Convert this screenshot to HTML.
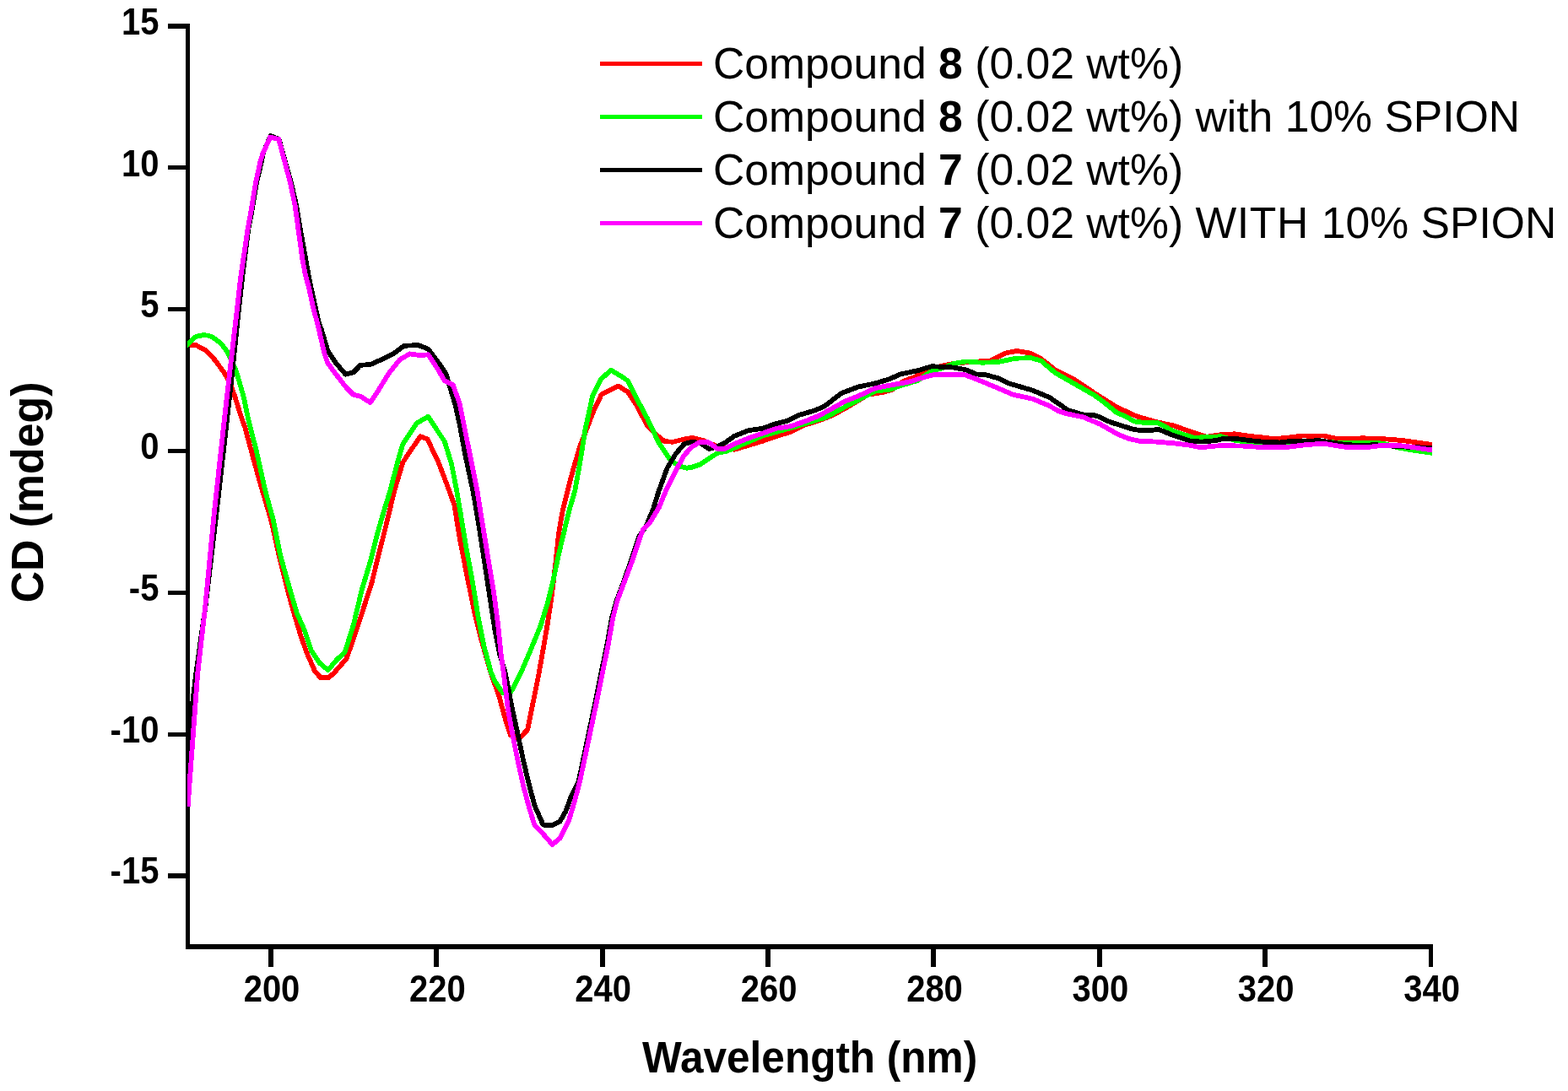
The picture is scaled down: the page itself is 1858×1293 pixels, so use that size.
<!DOCTYPE html>
<html lang="en">
<head>
<meta charset="utf-8">
<title>CD spectra</title>
<style>
html,body{margin:0;padding:0;background:#fff;}
body{width:1858px;height:1293px;overflow:hidden;position:relative;font-family:"Liberation Sans",sans-serif;}
svg{position:absolute;left:0;top:0;display:block;}
text{font-family:"Liberation Sans",sans-serif;fill:#000;}
.ax{fill:#000;shape-rendering:crispEdges;}
.tk{font-weight:bold;font-size:44px;}
.al{font-weight:bold;font-size:52px;}
.lg{font-size:52.2px;}
.lg .b{font-weight:bold;}
.cv{fill:none;shape-rendering:crispEdges;stroke-width:5.8;stroke-linejoin:round;stroke-linecap:butt;}
</style>
</head>
<body>
<svg width="1858" height="1293" viewBox="0 0 1858 1293">
<rect width="1858" height="1293" fill="#fff"/>
<defs><clipPath id="plot"><rect x="222" y="20" width="1475" height="1105"/></clipPath></defs>

<g class="axes">
<rect class="ax" x="220" y="28" width="5" height="1097"/>
<rect class="ax" x="220" y="1119" width="1478" height="6"/>
<rect class="ax" x="199" y="28" width="22" height="6"/>
<rect class="ax" x="199" y="196" width="22" height="5"/>
<rect class="ax" x="199" y="364" width="22" height="5"/>
<rect class="ax" x="199" y="532" width="22" height="5"/>
<rect class="ax" x="199" y="700" width="22" height="5"/>
<rect class="ax" x="199" y="868" width="22" height="5"/>
<rect class="ax" x="199" y="1035" width="22" height="6"/>
<rect class="ax" x="318" y="1124" width="6" height="22"/>
<rect class="ax" x="514" y="1124" width="6" height="22"/>
<rect class="ax" x="711" y="1124" width="6" height="22"/>
<rect class="ax" x="907" y="1124" width="6" height="22"/>
<rect class="ax" x="1103" y="1124" width="6" height="22"/>
<rect class="ax" x="1300" y="1124" width="6" height="22"/>
<rect class="ax" x="1496" y="1124" width="6" height="22"/>
<rect class="ax" x="1693" y="1124" width="5" height="22"/>
</g>
<g class="curves" clip-path="url(#plot)">
<path class="cv" stroke="#ff0000" d="M212.0,407.8 L222.1,408.4 L232.1,409.0 L237.3,411.7 L242.5,414.3 L248.5,420.4 L253.7,425.6 L258.9,432.5 L264.1,439.5 L268.5,446.4 L273.5,456.5 L278.6,470.7 L286.4,496.0 L290.2,506.3 L295.2,524.7 L301.9,549.7 L311.0,582.0 L321.0,615.4 L330.4,657.2 L340.6,698.9 L348.5,727.3 L356.0,752.4 L363.7,774.1 L372.9,795.0 L379.7,803.0 L389.5,803.0 L395.4,798.0 L410.4,780.8 L418.8,757.4 L427.1,732.3 L440.5,690.6 L448.8,657.2 L457.2,623.8 L467.2,582.0 L477.3,548.1 L487.3,533.0 L498.1,517.2 L506.5,520.5 L520.0,549.0 L532.5,582.0 L538.4,598.7 L545.1,640.5 L553.4,682.2 L561.8,724.0 L570.1,757.4 L581.8,798.0 L591.8,826.4 L598.5,851.4 L605.2,871.5 L615.3,875.0 L625.2,864.8 L630.2,839.8 L635.3,814.7 L638.6,798.0 L642.8,774.1 L648.6,740.7 L653.6,707.3 L658.6,665.5 L662.0,632.1 L667.0,603.7 L672.4,582.0 L678.7,558.1 L687.0,529.7 L703.7,486.3 L712.9,467.1 L733.0,457.5 L743.8,464.5 L753.8,479.6 L767.2,504.6 L777.2,514.7 L787.2,523.0 L797.3,523.8 L810.6,520.5 L820.6,518.8 L833.4,522.0 L850.0,529.0 L870.1,532.8 L886.8,527.8 L903.5,522.8 L920.2,516.9 L936.9,511.9 L953.6,503.6 L970.3,498.5 L987.0,491.9 L1003.7,482.7 L1028.8,467.6 L1045.5,465.1 L1057.2,461.8 L1070.5,451.8 L1083.9,446.8 L1095.6,440.0 L1110.0,435.0 L1130.0,430.9 L1146.7,429.2 L1173.4,427.6 L1191.8,418.4 L1205.2,415.9 L1220.2,418.4 L1233.6,425.1 L1250.3,438.4 L1273.6,450.1 L1297.0,466.0 L1323.7,482.7 L1347.1,493.5 L1370.5,500.2 L1390.6,504.4 L1413.9,512.7 L1430.0,517.7 L1446.7,515.2 L1463.4,514.3 L1480.1,516.8 L1496.8,518.5 L1510.2,520.2 L1526.9,518.5 L1543.6,516.5 L1556.9,516.8 L1568.6,516.5 L1580.3,519.3 L1597.0,520.2 L1613.7,519.3 L1630.4,519.7 L1647.1,520.7 L1663.8,522.3 L1680.5,524.7 L1697.0,526.9 L1707.0,528.2"/>
<path class="cv" stroke="#00ff00" d="M212.0,418.2 L222.1,408.3 L231.2,399.4 L236.4,397.9 L241.6,397.1 L246.8,397.7 L252.0,399.6 L258.9,404.8 L264.1,410.0 L269.3,416.9 L271.9,422.1 L278.4,436.0 L281.3,444.7 L288.8,470.7 L294.0,496.0 L296.9,508.0 L303.5,533.0 L310.2,563.1 L314.4,582.0 L323.6,615.4 L331.9,657.2 L343.6,698.9 L352.0,727.3 L360.3,745.7 L368.7,770.7 L378.7,785.8 L388.7,794.1 L398.7,782.4 L408.8,772.4 L418.8,740.7 L428.8,698.9 L438.8,665.5 L447.2,632.1 L455.5,603.7 L462.2,582.0 L470.6,549.7 L477.3,526.3 L494.0,501.3 L507.3,493.8 L520.0,513.0 L526.7,523.0 L535.0,549.7 L541.3,582.0 L545.5,607.1 L552.4,648.8 L560.1,690.6 L566.8,732.3 L573.4,765.7 L582.2,798.0 L586.8,808.0 L595.7,821.0 L605.5,820.0 L613.5,804.7 L616.9,798.0 L628.6,770.7 L640.3,742.3 L648.6,715.6 L655.3,688.9 L662.0,657.2 L668.7,628.8 L675.3,602.0 L681.2,582.0 L687.0,549.7 L693.7,508.0 L702.1,469.6 L712.1,449.5 L723.8,438.7 L733.8,444.5 L743.8,451.2 L753.8,471.2 L767.2,496.3 L780.6,524.7 L793.9,544.7 L804.0,552.2 L814.0,554.7 L820.0,553.7 L830.0,550.3 L840.0,543.6 L850.1,537.0 L861.8,534.5 L878.5,527.2 L903.5,516.6 L940.0,506.3 L978.7,494.6 L1003.7,481.0 L1037.1,463.5 L1053.8,461.8 L1070.5,456.0 L1087.2,451.0 L1103.9,440.0 L1117.3,436.0 L1130.0,430.9 L1145.0,428.4 L1163.4,429.7 L1181.8,429.2 L1203.5,424.7 L1221.9,424.2 L1233.6,427.6 L1250.3,441.8 L1273.6,455.1 L1297.0,468.5 L1310.4,478.5 L1323.7,489.4 L1333.8,493.5 L1343.8,499.4 L1357.1,501.1 L1372.2,501.1 L1390.6,511.1 L1413.9,518.6 L1430.0,518.2 L1446.7,517.2 L1463.4,521.8 L1480.1,524.3 L1500.1,526.5 L1520.2,526.5 L1538.6,524.3 L1560.0,523.0 L1590.0,525.0 L1613.7,525.3 L1630.4,524.8 L1640.5,526.0 L1655.5,530.2 L1672.2,533.3 L1697.0,536.8 L1707.0,538.2"/>
<path class="cv" stroke="#000000" d="M222.6,880.0 L232.3,798.0 L243.3,720.0 L256.5,608.0 L269.2,496.0 L275.8,436.0 L281.1,384.0 L287.2,328.3 L294.2,272.0 L298.4,250.2 L304.0,216.8 L309.8,191.8 L312.0,181.0 L320.5,161.0 L330.6,165.0 L337.5,190.0 L345.0,216.8 L351.2,243.5 L356.8,277.0 L362.2,306.7 L365.5,325.7 L368.7,341.3 L373.5,363.0 L378.2,384.0 L381.0,391.0 L388.5,416.1 L398.7,431.1 L409.6,443.7 L418.8,441.2 L427.1,432.8 L438.8,432.0 L452.2,426.1 L467.2,418.6 L478.9,409.8 L495.6,409.1 L507.3,413.6 L520.0,430.3 L528.4,442.8 L533.4,459.5 L539.4,479.6 L544.7,503.0 L551.4,539.7 L560.5,582.0 L567.6,623.8 L574.0,665.5 L580.4,707.3 L586.8,749.0 L591.8,774.1 L598.9,798.0 L606.9,839.8 L613.5,869.8 L620.2,901.6 L626.9,930.0 L633.6,955.0 L643.6,977.6 L653.6,978.4 L663.6,973.4 L670.3,961.7 L677.0,943.3 L685.5,926.6 L692.2,894.9 L698.9,863.1 L705.6,831.4 L712.3,798.0 L719.0,765.7 L725.0,732.3 L730.5,712.3 L738.0,692.2 L747.5,665.5 L757.5,635.4 L765.5,623.8 L773.9,603.7 L780.6,582.0 L790.6,554.7 L800.6,538.0 L810.6,526.3 L820.0,523.6 L830.0,525.3 L840.0,532.0 L850.1,529.4 L858.4,525.3 L870.1,516.9 L886.8,510.2 L903.5,507.7 L920.2,501.9 L933.6,498.5 L946.9,491.9 L967.0,486.0 L978.7,480.2 L997.0,466.0 L1017.1,458.5 L1037.1,454.3 L1053.8,449.3 L1067.2,443.4 L1087.2,439.3 L1103.9,434.2 L1130.0,435.5 L1145.0,438.4 L1156.7,443.4 L1168.4,444.3 L1183.4,448.4 L1195.1,454.3 L1223.5,462.6 L1243.6,471.0 L1265.3,486.0 L1283.7,491.5 L1295.4,491.9 L1303.7,494.4 L1315.4,500.2 L1342.1,508.6 L1352.1,510.2 L1363.8,510.2 L1372.2,508.6 L1390.6,516.1 L1410.6,522.8 L1424.0,523.6 L1440.0,522.2 L1450.0,519.8 L1468.4,520.4 L1480.1,522.0 L1496.8,523.7 L1516.9,524.5 L1530.2,522.8 L1546.9,522.6 L1563.6,522.3 L1577.0,524.3 L1597.0,527.3 L1613.7,527.7 L1630.4,527.2 L1647.1,528.5 L1663.8,529.5 L1680.5,530.3 L1697.0,531.2 L1707.0,531.7"/>
<path class="cv" stroke="#ff00ff" d="M222.6,955.8 L234.2,798.0 L243.1,720.0 L253.8,608.0 L266.0,496.0 L272.8,436.0 L278.9,384.0 L285.2,328.3 L293.5,272.0 L297.5,250.2 L302.9,216.8 L308.4,191.8 L311.2,182.5 L320.2,162.5 L330.3,165.0 L336.9,190.0 L344.0,216.8 L349.6,243.5 L354.2,277.0 L358.3,306.7 L361.8,325.7 L366.1,341.3 L370.8,363.0 L376.2,384.0 L378.0,391.0 L383.7,416.1 L387.9,429.5 L393.7,437.8 L410.4,459.5 L418.8,467.9 L427.1,469.6 L438.8,477.1 L447.2,464.5 L460.5,442.8 L473.9,426.1 L485.6,419.4 L497.3,421.1 L507.3,420.3 L520.0,439.5 L526.7,451.2 L536.7,456.2 L544.6,477.9 L550.6,508.0 L557.4,541.4 L565.5,582.0 L570.8,615.4 L577.7,657.2 L585.1,702.3 L590.2,740.7 L593.5,774.1 L596.8,798.0 L601.8,839.8 L606.9,868.2 L613.5,901.6 L620.2,931.6 L626.9,956.7 L633.6,978.4 L643.6,988.4 L654.5,1000.9 L663.6,993.4 L673.7,973.4 L680.3,951.7 L687.0,926.6 L693.7,894.9 L700.4,863.1 L707.1,831.4 L713.8,798.0 L720.4,765.7 L726.3,732.3 L731.3,712.3 L738.8,692.2 L748.8,665.5 L758.9,635.4 L762.2,627.1 L770.5,618.7 L780.6,602.0 L788.9,582.0 L800.6,558.1 L810.6,539.7 L820.0,529.4 L830.0,523.6 L840.0,524.4 L850.1,532.0 L858.4,532.0 L870.1,526.1 L886.8,519.4 L903.5,513.6 L920.2,507.7 L936.9,505.2 L953.6,499.4 L970.3,492.7 L987.0,483.5 L1000.4,476.0 L1017.1,469.3 L1037.1,460.1 L1053.8,456.8 L1077.2,452.6 L1090.6,448.4 L1107.3,443.8 L1130.0,443.8 L1143.4,444.3 L1156.7,449.3 L1176.8,457.6 L1200.2,467.6 L1223.5,472.7 L1243.6,481.0 L1253.6,486.9 L1263.6,490.2 L1283.7,494.4 L1303.7,502.7 L1325.4,515.2 L1338.8,520.3 L1350.5,522.8 L1370.5,523.6 L1390.6,525.3 L1410.6,527.8 L1422.3,530.3 L1440.0,528.6 L1446.7,528.2 L1471.8,528.5 L1496.8,530.2 L1523.5,530.2 L1546.9,527.2 L1568.6,525.7 L1580.3,527.7 L1597.0,530.2 L1622.1,529.9 L1638.8,527.7 L1663.8,528.5 L1680.5,531.0 L1697.0,533.5 L1707.0,535.0"/>
</g>
<g class="ticklabels">
<text class="tk" transform="translate(188.4,40.8) scale(0.909,1)" text-anchor="end">15</text>
<text class="tk" transform="translate(188.4,208.6) scale(0.909,1)" text-anchor="end">10</text>
<text class="tk" transform="translate(188.4,376.3) scale(0.909,1)" text-anchor="end">5</text>
<text class="tk" transform="translate(188.4,544.0) scale(0.909,1)" text-anchor="end">0</text>
<text class="tk" transform="translate(188.4,711.8) scale(0.909,1)" text-anchor="end">-5</text>
<text class="tk" transform="translate(188.4,879.5) scale(0.909,1)" text-anchor="end">-10</text>
<text class="tk" transform="translate(188.4,1047.3) scale(0.909,1)" text-anchor="end">-15</text>
<text class="tk" transform="translate(322.0,1187) scale(0.909,1)" text-anchor="middle">200</text>
<text class="tk" transform="translate(518.4,1187) scale(0.909,1)" text-anchor="middle">220</text>
<text class="tk" transform="translate(714.7,1187) scale(0.909,1)" text-anchor="middle">240</text>
<text class="tk" transform="translate(911.1,1187) scale(0.909,1)" text-anchor="middle">260</text>
<text class="tk" transform="translate(1107.5,1187) scale(0.909,1)" text-anchor="middle">280</text>
<text class="tk" transform="translate(1303.8,1187) scale(0.909,1)" text-anchor="middle">300</text>
<text class="tk" transform="translate(1500.2,1187) scale(0.909,1)" text-anchor="middle">320</text>
<text class="tk" transform="translate(1696.6,1187) scale(0.909,1)" text-anchor="middle">340</text>
</g>
<text class="al" transform="translate(959.6,1270.9) scale(0.9525,1)" text-anchor="middle">Wavelength (nm)</text>
<text class="al" style="font-size:53.5px" transform="translate(51.4,583.5) rotate(-90) scale(0.968,1)" text-anchor="middle">CD (mdeg)</text>
<g class="legend">
<rect x="711" y="73" width="121" height="5" fill="#ff0000" shape-rendering="crispEdges"/>
<text class="lg" transform="translate(845,93) scale(0.99,1)">Compound <tspan class="b">8</tspan> (0.02 wt%)</text>
<rect x="711" y="136" width="121" height="5" fill="#00ff00" shape-rendering="crispEdges"/>
<text class="lg" transform="translate(845,156) scale(0.99,1)">Compound <tspan class="b">8</tspan> (0.02 wt%) with 10% SPION</text>
<rect x="711" y="199" width="121" height="5" fill="#000000" shape-rendering="crispEdges"/>
<text class="lg" transform="translate(845,219) scale(0.99,1)">Compound <tspan class="b">7</tspan> (0.02 wt%)</text>
<rect x="711" y="262" width="121" height="5" fill="#ff00ff" shape-rendering="crispEdges"/>
<text class="lg" transform="translate(845,282) scale(0.99,1)">Compound <tspan class="b">7</tspan> (0.02 wt%) <tspan style="letter-spacing:0.6px">WITH </tspan>10% SPION</text>
</g>
</svg>
</body>
</html>
